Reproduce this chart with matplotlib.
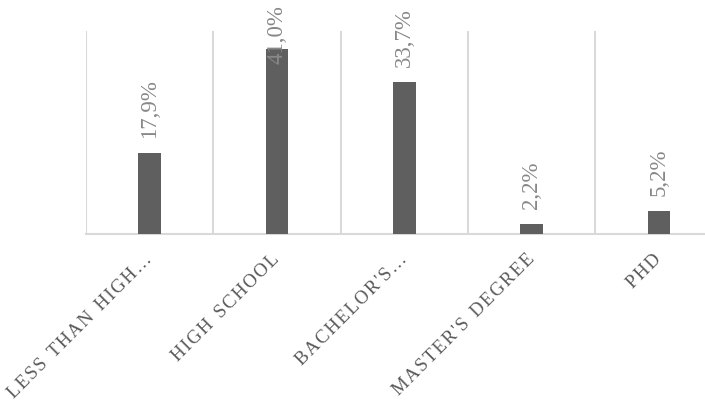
import matplotlib
matplotlib.use('Agg')
import matplotlib.pyplot as plt
from matplotlib.transforms import ScaledTranslation

plt.rcParams['font.family'] = ['Liberation Serif', 'DejaVu Serif']

# 教育程度分布
categories = ["Less than high…", "High school", "Bachelor's…", "Master's degree", "PhD"]
values = [17.9, 41.0, 33.7, 2.2, 5.2]

bar_color = "#5f5f5f"
grid_color = "#d9d9d9"
label_color = "#595959"
value_color = "#888888"

fig = plt.figure(figsize=(7.05, 4.13), dpi=100)
ax = fig.add_axes([0.122, 0.4334, 0.903, 0.4915])

x = list(range(len(values)))
ax.bar(x, values, width=0.18, color=bar_color, zorder=3)

ax.set_xlim(-0.5, len(values) - 0.5)
ax.set_ylim(0, 45)

# 分类之间的竖线
ax.set_xticks([i - 0.5 for i in range(len(values) + 1)], minor=True)
ax.grid(axis='x', which='minor', color=grid_color, linewidth=1.5, zorder=0)
ax.tick_params(axis='x', which='both', length=0)
ax.set_yticks([])

for side in ['top', 'right', 'left']:
    ax.spines[side].set_visible(False)
ax.spines['bottom'].set_color(grid_color)
ax.spines['bottom'].set_linewidth(1.5)

# 数值标签(竖排), 顶部不超出图表
for i, v in enumerate(values):
    ty = min(v + 3.3, 37.6)
    ax.text(i, ty, f"{v:.1f}%".replace('.', ','), rotation=90,
            ha='center', va='bottom', fontsize=16.5, color=value_color, zorder=4)

# 分类标签: 大写加字距, 45度
def spaced(s):
    return "  ".join("\u200a".join(w) for w in s.upper().split(" "))

ax.set_xticks(x)
ax.set_xticklabels([spaced(c) for c in categories], rotation=45, ha='right', va='top',
                   rotation_mode='anchor', fontsize=13.5, color=label_color)
shift = ScaledTranslation(-6 / 100, -6 / 100, fig.dpi_scale_trans)
for lbl in ax.get_xticklabels():
    lbl.set_y(-0.03)
    lbl.set_transform(lbl.get_transform() + shift)

fig.savefig("out.png", dpi=100)
plt.close(fig)
